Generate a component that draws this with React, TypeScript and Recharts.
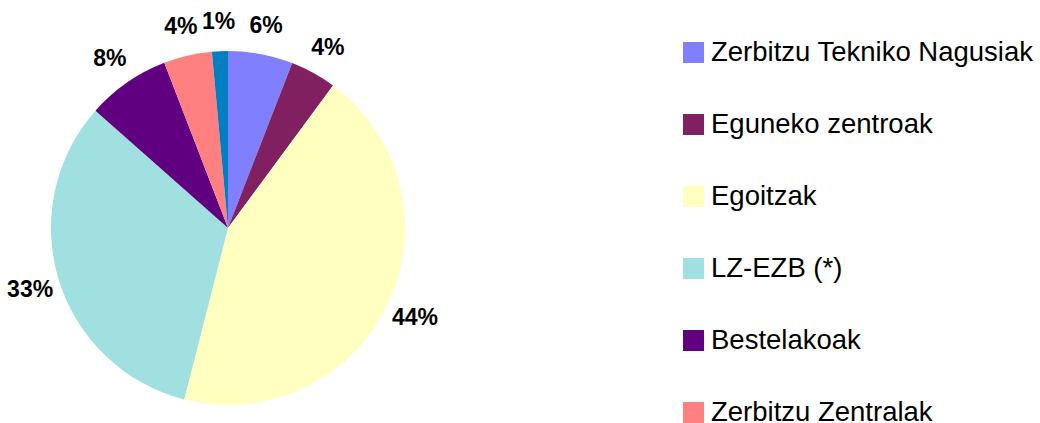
import { Legend, Pie, PieChart, Cell } from 'recharts';

const categories = [
  'Zerbitzu Tekniko Nagusiak',
  'Eguneko zentroak',
  'Egoitzak',
  'LZ-EZB (*)',
  'Bestelakoak',
  'Zerbitzu Zentralak',
  'Besteak',
];

// shares (percent)
const shares = [5.9, 4.2, 43.8, 32.5, 7.6, 4.4, 1.45];

const colors = ['#8080FF', '#802060', '#FFFFC0', '#A0E0E0', '#600080', '#FF8080', '#0080C0'];

// the reference legend runs off the bottom after six entries
const LEGEND_VISIBLE = 6;

const FONT = '"Liberation Sans", Arial, sans-serif';
const RADIAN = Math.PI / 180;

const data = categories.map((name, i) => ({ name, value: shares[i] }));

function renderLabel(props: any) {
  const { cx, cy, midAngle, outerRadius, percent } = props;
  const r = outerRadius + 30;
  const x = cx + r * Math.cos(-midAngle * RADIAN);
  const y = cy + r * Math.sin(-midAngle * RADIAN);
  return (
    <text
      x={x}
      y={y}
      textAnchor="middle"
      dominantBaseline="central"
      fontFamily={FONT}
      fontWeight="bold"
      fontSize={23}
      fill="#000"
    >
      {`${Math.round(percent * 100)}%`}
    </text>
  );
}

function renderLegend() {
  const items = categories.slice(0, LEGEND_VISIBLE);
  return (
    <div style={{ position: 'relative' }}>
      {items.map((name, i) => (
        <div
          key={name}
          style={{
            display: 'flex',
            alignItems: 'center',
            height: 21,
            marginBottom: i < items.length - 1 ? 51 : 0,
          }}
        >
          <span
            style={{ width: 21, height: 21, background: colors[i], display: 'inline-block' }}
          />
          <span
            style={{
              marginLeft: 7,
              fontFamily: FONT,
              fontSize: 27.5,
              lineHeight: '21px',
              color: '#000',
              whiteSpace: 'nowrap',
              position: 'relative',
              top: -1,
            }}
          >
            {name}
          </span>
        </div>
      ))}
    </div>
  );
}

export default function App() {
  return (
    <div
      style={{
        position: 'absolute',
        left: 0,
        top: 0,
        width: 1040,
        height: 423,
        overflow: 'hidden',
        background: '#fff',
      }}
    >
      <PieChart width={1040} height={423} margin={{ top: 0, right: 0, bottom: 0, left: 0 }}>
        <Pie
          data={data}
          dataKey="value"
          nameKey="name"
          cx={228}
          cy={228}
          outerRadius={177}
          startAngle={90}
          endAngle={-270}
          stroke="none"
          labelLine={false}
          label={renderLabel}
          isAnimationActive={false}
        >
          {data.map((d, i) => (
            <Cell key={d.name} fill={colors[i]} />
          ))}
        </Pie>
        <Legend
          layout="vertical"
          align="right"
          verticalAlign="top"
          content={renderLegend}
          wrapperStyle={{ left: 683, top: 42, right: 'auto', width: 357 }}
        />
      </PieChart>
    </div>
  );
}
